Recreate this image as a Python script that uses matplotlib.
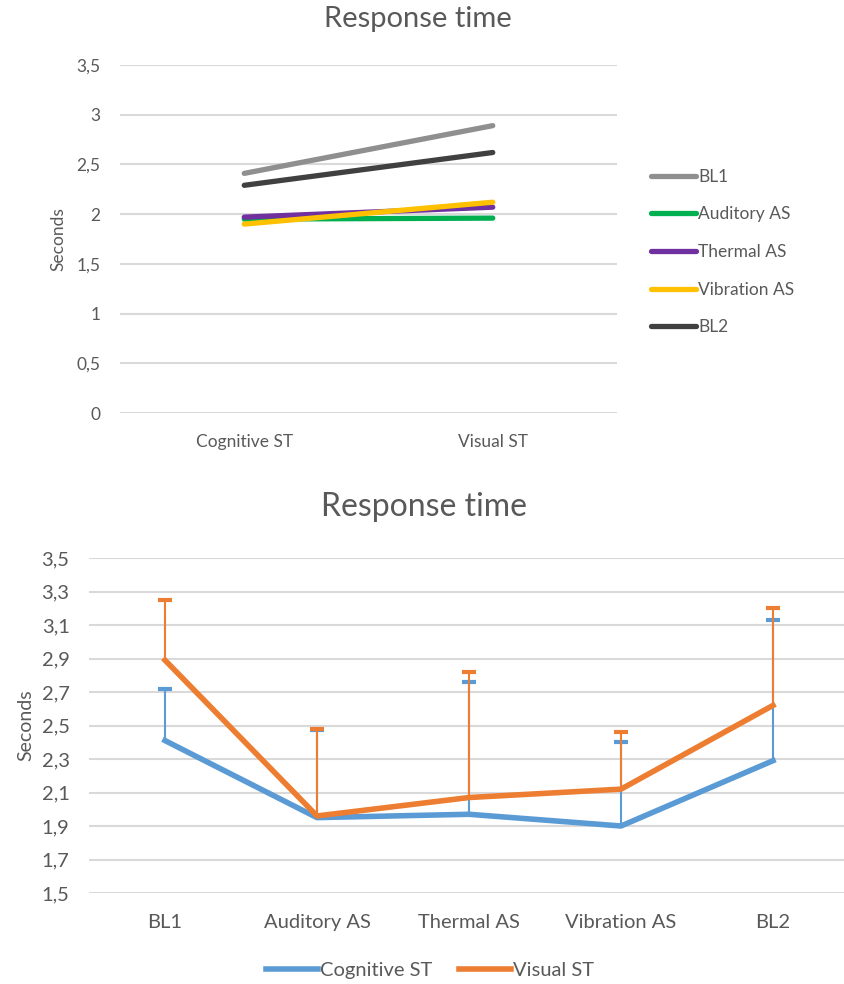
"""Response time: line chart by stimulus condition, then by alert signal with error bars."""
import matplotlib
matplotlib.use("Agg")
import matplotlib.pyplot as plt
from matplotlib.ticker import FuncFormatter

plt.rcParams["font.family"] = ["Lato", "DejaVu Sans"]

tasks = ["Cognitive ST", "Visual ST"]
conditions = ["BL1", "Auditory AS", "Thermal AS", "Vibration AS", "BL2"]
cognitive = [2.41, 1.95, 1.97, 1.90, 2.29]
visual = [2.89, 1.96, 2.07, 2.12, 2.62]
cognitive_upper = [2.72, 2.475, 2.76, 2.40, 3.13]
visual_upper = [3.25, 2.48, 2.82, 2.46, 3.20]

cond_colors = ["#8f8f8f", "#00b050", "#7030a0", "#ffc000", "#404040"]
GREY_TXT = "#595959"
GRID = "#d9d9d9"

comma = FuncFormatter(lambda v, _: f"{v:g}".replace(".", ","))


def habiller(ax, ylim, yticks, size, pad_y, pad_x):
    ax.set_ylim(*ylim)
    ax.set_yticks(yticks)
    ax.yaxis.set_major_formatter(comma)
    ax.grid(axis="y", color=GRID, linewidth=1.5)
    ax.set_axisbelow(True)
    for s in ax.spines.values():
        s.set_visible(False)
    ax.tick_params(axis="both", length=0, labelsize=size, colors=GREY_TXT)
    ax.tick_params(axis="y", pad=pad_y)
    ax.tick_params(axis="x", pad=pad_x)


fig = plt.figure(figsize=(8.44, 9.84), dpi=100)

# --- haut : une ligne par condition ---
ax1 = fig.add_axes([120 / 844, 1 - 413 / 984, 497 / 844, 348 / 984])
for i, cond in enumerate(conditions):
    ax1.plot([0, 1], [cognitive[i], visual[i]], color=cond_colors[i],
             linewidth=3.8, solid_capstyle="round", label=cond)
ax1.set_xlim(-0.5, 1.5)
ax1.set_xticks(range(len(tasks)))
ax1.set_xticklabels(tasks)
habiller(ax1, (0, 3.5), [0, 0.5, 1, 1.5, 2, 2.5, 3, 3.5], 12.5, 14, 15)
fig.text(418 / 844, 1 - 19 / 984, "Response time", fontsize=21,
         color=GREY_TXT, ha="center", va="center")
ax1.set_ylabel("Seconds", fontsize=12.5, color=GREY_TXT, labelpad=7)
ax1.legend(loc="center left", bbox_to_anchor=(635 / 844, 1 - 252 / 984),
           bbox_transform=fig.transFigure, frameon=False,
           fontsize=12.5, labelcolor=GREY_TXT, handlelength=2.6,
           handletextpad=0.15, labelspacing=1.25)

# --- bas : deux tâches, barres d'erreur supérieures ---
ax2 = fig.add_axes([89 / 844, 1 - 893 / 984, 760 / 844, 335 / 984])
x = range(len(conditions))
for vals, upper, col, lab in [(cognitive, cognitive_upper, "#5b9bd5", "Cognitive ST"),
                              (visual, visual_upper, "#ed7d31", "Visual ST")]:
    err = [[0] * len(vals), [u - v for u, v in zip(upper, vals)]]
    _, caps, _ = ax2.errorbar(x, vals, yerr=err, fmt="none", ecolor=col,
                              elinewidth=1.5, capsize=5, capthick=3, zorder=2)
    caps[0].set_visible(False)  # pas de barre inférieure
    ax2.plot(x, vals, color=col, linewidth=4, label=lab, zorder=3,
             solid_joinstyle="round")
ax2.set_xlim(-0.5, len(conditions) - 0.5)
ax2.set_xticks(list(x))
ax2.set_xticklabels(conditions)
habiller(ax2, (1.5, 3.5), [1.5, 1.7, 1.9, 2.1, 2.3, 2.5, 2.7, 2.9, 3.1, 3.3, 3.5],
         14.5, 14, 15)
fig.text(424 / 844, 1 - 507 / 984, "Response time", fontsize=23,
         color=GREY_TXT, ha="center", va="center")
ax2.set_ylabel("Seconds", fontsize=14, color=GREY_TXT, labelpad=5)
fig.legend(*ax2.get_legend_handles_labels(), loc="center", ncol=2,
           bbox_to_anchor=(430 / 844, 1 - 970 / 984), frameon=False,
           fontsize=14.5, labelcolor=GREY_TXT, handlelength=2.6,
           handletextpad=0.1, columnspacing=1.3)

fig.savefig("out.png", dpi=100)
